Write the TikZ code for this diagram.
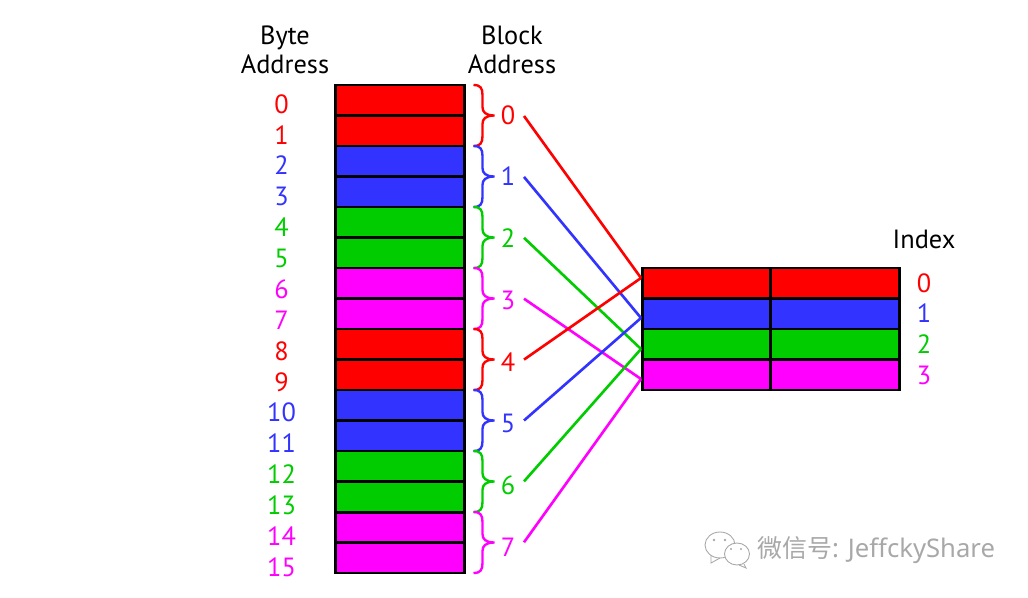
\documentclass[tikz,border=0pt]{standalone}
\usepackage{xcolor}
\usepackage{fontspec}
\setmainfont{PT Sans}
\newfontfamily\cjkfont{Noto Sans CJK SC}
\newfontfamily\markfont{Noto Sans}
\usetikzlibrary{positioning, calc}

\definecolor{cellred}{HTML}{FF0000}
\definecolor{cellblue}{HTML}{3333FF}
\definecolor{cellgreen}{HTML}{00CC00}
\definecolor{cellpink}{HTML}{FF00FF}
\definecolor{markgray}{HTML}{A8A8A8}

\tikzset{
  cell/.style={draw=black, line width=1.7pt, minimum width=2.58cm, minimum height=0.61cm, inner sep=0pt, outer sep=0pt},
  halfcell/.style={cell, minimum width=2.57cm},
  label/.style={font=\fontsize{15}{18}\selectfont, inner sep=0pt, text height=10.5pt, text depth=0pt},
  link/.style={line width=1.5pt},
  curlybrace/.pic={
    \draw[line width=1.35pt] (0,0) .. controls (7,0) and (9,3) .. (9,10) -- (9,22)
      .. controls (9,27) and (12,30.5) .. (21,30.5)
      .. controls (12,30.5) and (9,34) .. (9,39) -- (9,51)
      .. controls (9,58) and (7,61) .. (0,61);
  },
}

\begin{document}
\begin{tikzpicture}[x=0.02cm, y=-0.02cm]
  \useasboundingbox (0,0) rectangle (1028,598);

  % Headings
  \node[label] (byte) at (285,35) {Byte};
  \node[label] (byteaddr) at (285,64) {Address};
  \node[label] (block) at (512,35) {Block};
  \node[label] (blockaddr) at (512,64) {Address};
  \node[label] (index) at (924,239) {Index};

  % Memory column with its byte numbers
  \foreach \i/\c in {0/cellred,1/cellred,2/cellblue,3/cellblue,4/cellgreen,5/cellgreen,6/cellpink,7/cellpink,
                     8/cellred,9/cellred,10/cellblue,11/cellblue,12/cellgreen,13/cellgreen,14/cellpink,15/cellpink} {
    \node[cell, fill=\c] (mem\i) at (400,{100.25+30.5*\i}) {};
    \node[label, text=\c] (num\i) at (281.5,{104+30.87*\i}) {\i};
  }

  % Cache rows with their index numbers
  \foreach \i/\c in {0/cellred,1/cellblue,2/cellgreen,3/cellpink} {
    \node[halfcell, fill=\c] (left\i) at (706.5,{283.25+30.5*\i}) {};
    \node[halfcell, fill=\c] (right\i) at (835,{283.25+30.5*\i}) {};
    \node[label, text=\c] (idx\i) at (924,{283+30.7*\i}) {\i};
  }

  % Where the links land on the cache
  \coordinate (in0) at (641,278);
  \coordinate (in1) at (641,318);
  \coordinate (in2) at (641,349);
  \coordinate (in3) at (641,379);

  % Block numbers, braces and links
  \foreach \i/\c/\r/\a in {0/cellred/0/0,1/cellblue/1/2,2/cellgreen/2/4,3/cellpink/3/6,
                           4/cellred/0/8,5/cellblue/1/10,6/cellgreen/2/12,7/cellpink/3/14} {
    \node[label, text=\c] (blk\i) at (508,{115+61.7*\i}) {\i};
    \coordinate (from\i) at (524,{116+60.9*\i});
    \pic[\c] at ($(mem\a.north east)+(9,0)$) {curlybrace};
    \draw[link, \c] (from\i) -- (in\r);
  }

  % Account mark in the corner
  \begin{scope}[draw=markgray, line width=0.5pt]
    \draw (720,545) ellipse (15 and 13);
    \draw (711,555) -- (711,563) -- (720,558);
    \draw[fill=white] (737,554) ellipse (12.5 and 11);
    \draw (744,564) -- (746,568) -- (739,565);
    \fill[markgray] (714,540) circle (1.3) (725,540) circle (1.3) (731,549) circle (1.1) (741,549) circle (1.1);
  \end{scope}
  \node[font=\fontsize{14.2}{18}\selectfont, text=markgray, inner sep=0pt, anchor=west] (mark) at (757,550) {{\cjkfont 微信号}{\markfont\fontsize{14.6}{18}\selectfont: JeffckyShare}};
\end{tikzpicture}
\end{document}
